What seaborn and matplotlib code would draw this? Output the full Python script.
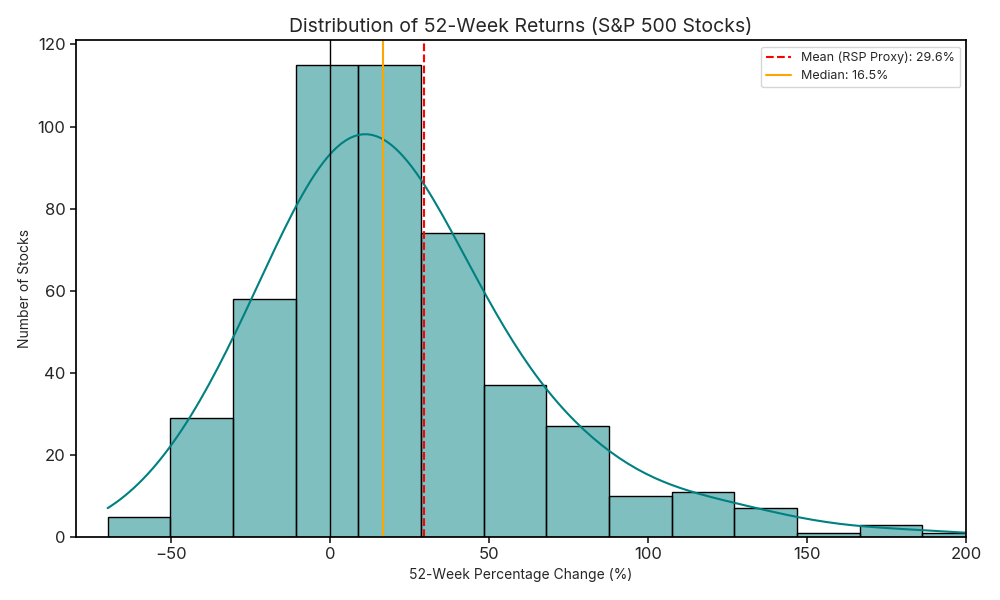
import numpy as np
import pandas as pd
import seaborn as sns
import matplotlib.pyplot as plt

# histogram bins (14 equal bins from -70 to ~205.8)
BIN_LO = -70.0
BIN_HI = 205.8
N_BINS = 14
counts = [5, 29, 58, 115, 115, 74, 37, 27, 10, 11, 7, 1, 3, 1]

mean_ret = 29.6
median_ret = 16.5

edges = np.linspace(BIN_LO, BIN_HI, N_BINS + 1)
centers = (edges[:-1] + edges[1:]) / 2
df = pd.DataFrame({"ret": centers, "n": counts})

sns.set_theme(style="white")
plt.rcParams["font.family"] = ["Inter", "DejaVu Sans"]

fig, ax = plt.subplots(figsize=(10, 6), dpi=100)
# weighted kde uses effective n, so narrow the bandwidth to look like the raw-data kde
sns.histplot(data=df, x="ret", weights="n", bins=N_BINS, binrange=(BIN_LO, BIN_HI),
             kde=True, color="teal", edgecolor="black", alpha=0.5,
             kde_kws={"cut": 3, "clip": (BIN_LO, BIN_HI), "bw_adjust": 0.66}, ax=ax)
ax.lines[0].set_linewidth(1.5)

ax.axvline(0, color="black", linewidth=1)
ax.axvline(mean_ret, color="red", linestyle="--", linewidth=1.5,
           label=f"Mean (RSP Proxy): {mean_ret}%")
ax.axvline(median_ret, color="orange", linestyle="-", linewidth=1.5,
           label=f"Median: {median_ret}%")

ax.set_xlim(-80, 200)
ax.set_ylim(0, 121)
ax.set_title("Distribution of 52-Week Returns (S&P 500 Stocks)", fontsize=14)
ax.set_xlabel("52-Week Percentage Change (%)", fontsize=10)
ax.set_ylabel("Number of Stocks", fontsize=10)
ax.tick_params(axis="both", labelsize=12, length=4, left=True, bottom=True)
for s in ax.spines.values():
    s.set_color("black")
ax.legend(fontsize=9, loc="upper right")

plt.tight_layout()
plt.savefig("out.png")
